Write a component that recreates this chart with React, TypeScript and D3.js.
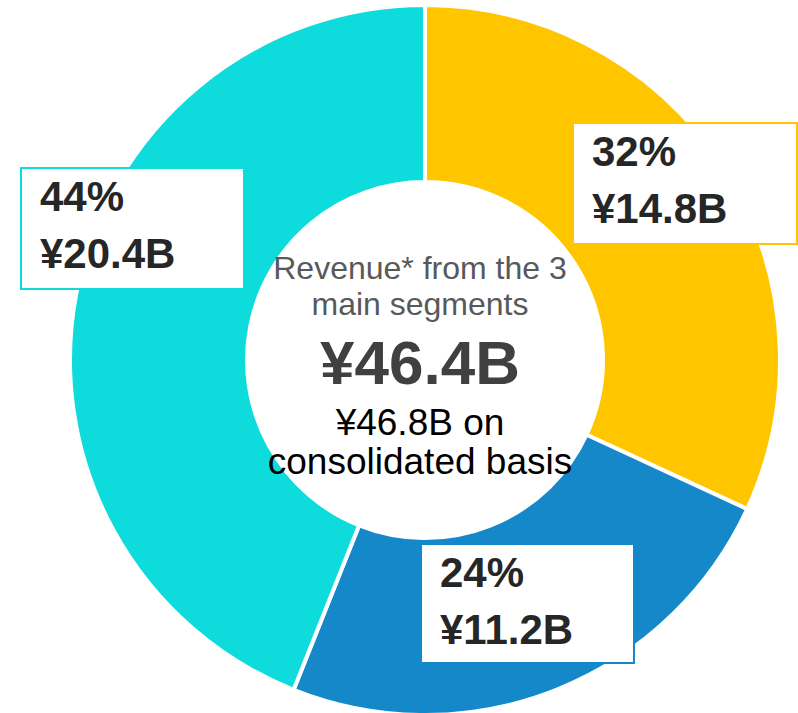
import React from "react";
import * as d3 from "d3";

const segments = ["Segment A", "Segment B", "Segment C"];
const values = [14.8, 11.2, 20.4];
const percentLabels = ["32%", "24%", "44%"];
const valueLabels = ["¥14.8B", "¥11.2B", "¥20.4B"];
const colors = ["#FFC600", "#1488C8", "#0EDBDB"];
const centerLines = ["Revenue* from the 3", "main segments"];
const totalLabel = "¥46.4B";
const consolidatedLines = ["¥46.8B on", "consolidated basis"];

// label box layout (left, top, width, height)
const boxLayout = [
  { x: 573, y: 123, w: 224, h: 121 },
  { x: 421, y: 544, w: 213, h: 119 },
  { x: 21, y: 168, w: 223, h: 121 },
];

const W = 798;
const H = 713;
const cx = 425;
const cy = 360;
const textCx = 420;
const outerR = 355;
const innerR = 178;
const FONT = "'Liberation Sans', Arial, sans-serif";

export default function App() {
  const pie = d3
    .pie<number>()
    .sort(null)
    .value((d) => d)
    .startAngle(0)
    .endAngle(2 * Math.PI);
  const arcs = pie(values);
  const arc = d3.arc<d3.PieArcDatum<number>>().innerRadius(innerR).outerRadius(outerR);

  return (
    <svg
      width={W}
      height={H}
      style={{ position: "absolute", left: 0, top: 0, background: "#fff" }}
      fontFamily={FONT}
    >
      <g transform={`translate(${cx},${cy})`}>
        {arcs.map((a, i) => (
          <path key={segments[i]} d={arc(a) || ""} fill={colors[i]} stroke="#fff" strokeWidth={4} />
        ))}
      </g>
      {boxLayout.map((b, i) => (
        <g key={"box" + i}>
          <rect x={b.x} y={b.y} width={b.w} height={b.h} fill="#fff" stroke={colors[i]} strokeWidth={2} />
          <text x={b.x + 19} y={b.y + 43} fontSize={42} fontWeight="bold" fill="#262626">
            {percentLabels[i]}
          </text>
          <text x={b.x + 19} y={b.y + 100} fontSize={42} fontWeight="bold" fill="#262626">
            {valueLabels[i]}
          </text>
        </g>
      ))}
      <g textAnchor="middle">
        <text x={textCx} y={279} fontSize={32} fill="#595959">{centerLines[0]}</text>
        <text x={textCx} y={315} fontSize={32} fill="#595959">{centerLines[1]}</text>
        <text x={textCx} y={384} fontSize={62} fontWeight="bold" fill="#404040">{totalLabel}</text>
        <text x={textCx} y={435} fontSize={37} fill="#000">{consolidatedLines[0]}</text>
        <text x={textCx} y={474} fontSize={37} fill="#000">{consolidatedLines[1]}</text>
      </g>
    </svg>
  );
}
